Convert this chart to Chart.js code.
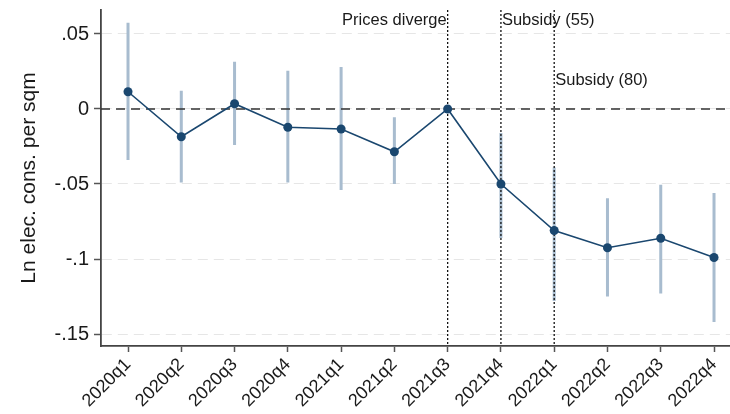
<!DOCTYPE html>
<html>
<head>
<meta charset="utf-8">
<script src="https://cdn.jsdelivr.net/npm/chart.js@4/dist/chart.umd.min.js"></script>
<style>
  html, body { margin: 0; padding: 0; background: #fff; }
  #wrap { width: 730px; height: 414px; }
</style>
</head>
<body>
<div id="wrap"><canvas id="coefPlot" width="730" height="414"></canvas></div>
<script>
// quarters on the x axis
const quarters = ['2020q1', '2020q2', '2020q3', '2020q4', '2021q1', '2021q2',
                  '2021q3', '2021q4', '2022q1', '2022q2', '2022q3', '2022q4'];
// point estimates
const coef = [0.0115, -0.0185, 0.0035, -0.0122, -0.0133, -0.0285,
              0, -0.050, -0.081, -0.0925, -0.0862, -0.099];
// 95% confidence bounds (2021q3 is the reference quarter)
const ciLow  = [-0.034, -0.049, -0.024, -0.049, -0.054, -0.050,
                null, -0.086, -0.128, -0.125, -0.123, -0.142];
const ciHigh = [0.0575, 0.0122, 0.0315, 0.0255, 0.028, -0.0055,
                null, -0.016, -0.039, -0.0595, -0.0505, -0.056];
// y axis ticks and their labels
const yTicks = [0.05, 0, -0.05, -0.1, -0.15];
const yTickLabels = ['.05', '0', '-.05', '-.1', '-.15'];
// event lines
const eventIdx = [6, 7, 8];
const eventLabels = ['Prices diverge', 'Subsidy (55)', 'Subsidy (80)'];

const yMin = -0.158, yMax = 0.066;
const xMin = -0.507, xMax = 11.3;

// build helper datasets from the arrays
const ciPts = [];
quarters.forEach((q, i) => {
  if (ciLow[i] === null) return;
  ciPts.push({x: i, y: ciLow[i]}, {x: i, y: ciHigh[i]}, {x: i, y: null});
});
const eventPts = [];
eventIdx.forEach(i => {
  eventPts.push({x: i, y: yMax}, {x: i, y: yMin}, {x: i, y: null});
});
const coefPts = coef.map((v, i) => ({x: i, y: v}));

const FONT = "'Liberation Sans', Arial, sans-serif";

const eventText = {
  id: 'eventText',
  afterDatasetsDraw(chart) {
    const ctx = chart.ctx;
    const xs = chart.scales.x;
    ctx.save();
    ctx.font = '16.5px ' + FONT;
    ctx.fillStyle = '#1a1a1a';
    ctx.textBaseline = 'middle';
    // Prices diverge sits left of its line, the subsidies to the right
    ctx.textAlign = 'right';
    ctx.fillText(eventLabels[0], xs.getPixelForValue(eventIdx[0]) - 1, 20);
    ctx.textAlign = 'left';
    ctx.fillText(eventLabels[1], xs.getPixelForValue(eventIdx[1]) + 1, 20);
    ctx.fillText(eventLabels[2], xs.getPixelForValue(eventIdx[2]) + 1, 80);
    ctx.restore();
  }
};

function noPad(s) {
  s.paddingTop = 0; s.paddingBottom = 0;
  s.paddingLeft = 0; s.paddingRight = 0;
}

const canvas = document.getElementById('coefPlot');

new Chart(canvas, {
  type: 'line',
  data: {
    datasets: [
      {
        label: 'coef',
        data: coefPts,
        borderColor: '#1a476f',
        backgroundColor: '#1a476f',
        borderWidth: 1.6,
        pointRadius: 4.5,
        pointBorderWidth: 0,
        tension: 0,
        order: 1
      },
      {
        label: 'zero',
        data: [{x: xMin, y: 0}, {x: xMax, y: 0}],
        borderColor: '#333',
        borderWidth: 1.6,
        borderDash: [9, 6],
        pointRadius: 0,
        order: 2
      },
      {
        label: 'events',
        data: eventPts,
        borderColor: '#111',
        borderWidth: 1.3,
        borderDash: [2, 2],
        pointRadius: 0,
        spanGaps: false,
        order: 3
      },
      {
        label: 'ci',
        data: ciPts,
        borderColor: '#a8bccf',
        borderWidth: 3,
        pointRadius: 0,
        spanGaps: false,
        order: 4
      }
    ]
  },
  options: {
    responsive: false,
    animation: false,
    layout: { autoPadding: false, padding: { top: 10, right: 0, left: 0, bottom: 0 } },
    plugins: {
      legend: { display: false },
      tooltip: { enabled: false }
    },
    scales: {
      x: {
        type: 'linear',
        min: xMin,
        max: xMax,
        afterBuildTicks: (s) => { s.ticks = quarters.map((q, i) => ({value: i})); },
        afterFit: (s) => { s.height = 68; noPad(s); },
        ticks: {
          callback: (v) => quarters[v],
          minRotation: 45,
          maxRotation: 45,
          autoSkip: false,
          color: '#1a1a1a',
          padding: 2,
          font: { family: FONT, size: 18 }
        },
        grid: {
          drawOnChartArea: false,
          drawTicks: true,
          tickLength: 6,
          tickColor: '#555',
          tickWidth: 1.5
        },
        border: { display: true, color: '#444', width: 1.8 }
      },
      y: {
        type: 'linear',
        min: yMin,
        max: yMax,
        afterBuildTicks: (s) => { s.ticks = yTicks.map(v => ({value: v})); },
        afterFit: (s) => { s.width = 101; noPad(s); },
        ticks: {
          callback: (v) => yTickLabels[yTicks.indexOf(v)],
          color: '#1a1a1a',
          padding: 5,
          font: { family: FONT, size: 20 }
        },
        grid: {
          color: '#e6e6e6',
          lineWidth: 1,
          tickLength: 7,
          tickColor: '#555',
          tickWidth: 1.5,
          tickBorderDash: []
        },
        border: { display: true, color: '#444', width: 1.8, dash: [10, 6] },
        title: {
          display: true,
          text: 'Ln elec. cons. per sqm',
          color: '#1a1a1a',
          font: { family: FONT, size: 21 },
          padding: { top: 17, bottom: 0 }
        }
      }
    }
  },
  plugins: [eventText]
});
</script>
</body>
</html>
